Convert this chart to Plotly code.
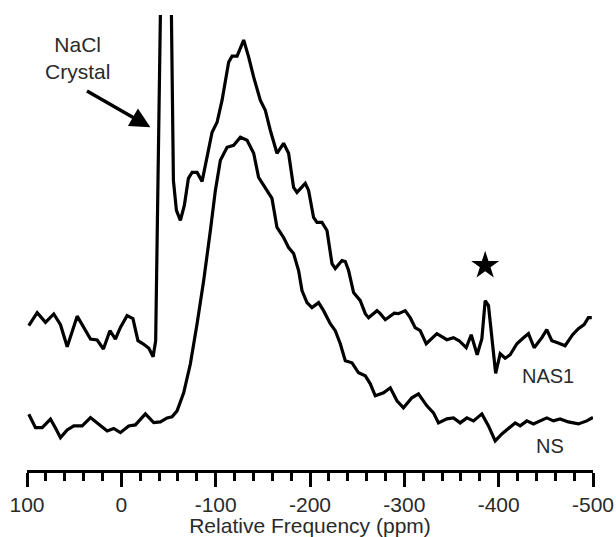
import plotly.graph_objects as go

# Chemical shift axis (ppm) and intensities (arbitrary units) for the two spectra
ns_ppm = [98.1, 91.0, 83.9, 75.1, 69.8, 64.5, 57.4, 50.4, 41.5, 32.7, 23.9, 15.0, 8.1, 1.0,
          -7.8, -14.9, -25.5, -34.3, -41.4, -48.5, -53.8, -59.1, -66.1, -73.2, -80.3, -87.3,
          -94.4, -99.7, -105.0, -112.1, -119.1, -126.2, -133.3, -140.3, -145.5, -152.6, -159.7,
          -165.0, -172.0, -177.3, -182.6, -187.9, -191.5, -196.8, -202.1, -209.1, -214.4,
          -221.5, -226.8, -232.1, -237.4, -244.5, -251.5, -258.6, -263.9, -269.2, -278.0,
          -285.1, -292.2, -299.1, -308.0, -315.0, -323.9, -330.9, -336.2, -345.1, -352.1,
          -359.2, -366.3, -373.3, -382.2, -389.2, -396.3, -403.4, -410.4, -417.5, -422.8,
          -429.9, -436.8, -443.9, -451.0, -458.0, -465.1, -473.9, -484.5, -493.4, -500.0]
ns_int = [6.7, -6.7, -6.7, 1.7, -7, -16.7, -9, -5, -5, 3.3, -3.3, -10, -7.5, -11.7,
          -5, -4, 7, -1.7, -1, 3, 4, 10, 28, 57, 97, 140,
          190, 230, 260, 273, 275, 283, 280, 267, 243, 232, 222,
          193, 183, 173, 167, 150, 130, 118, 113, 118, 110,
          97, 90, 77, 60, 58, 48, 45, 37, 25, 28,
          33, 20, 13, 23, 27, 15, 8, -2, 2, 3,
          -2, 3, 0, 7, -5, -20, -13, -8, -2, -5,
          0, -3, 0, 3, 0, 2, -1, -3, 0, 3.5]

nas1_ppm = [98.1, 89.2, 80.4, 71.6, 64.5, 57.4, 46.8, 39.8, 32.7, 25.6, 19.0, 12.1, 6.3, 1.0,
            -6.1, -12.3, -17.6, -23.4, -29.2, -33.7, -36.4, -47.8, -55.2, -58.4, -62.6, -66.8,
            -71.1, -75.0, -80.3, -85.6, -90.9, -96.2, -101.5, -106.8, -113.8, -117.4, -122.7,
            -129.7, -135.0, -140.3, -147.3, -152.6, -157.9, -165.0, -172.0, -177.3, -182.6,
            -186.2, -195.0, -198.5, -203.8, -207.4, -212.7, -218.0, -223.3, -226.8, -233.9,
            -237.4, -240.9, -246.2, -253.3, -258.6, -262.1, -271.0, -274.5, -279.8, -289.3,
            -293.8, -300.9, -306.2, -311.5, -316.8, -323.2, -334.5, -345.1, -352.1, -358.1,
            -365.6, -370.9, -377.2, -382.2, -385.7, -389.2, -392.8, -396.8, -401.6, -406.9,
            -412.2, -419.3, -426.3, -431.6, -437.6, -445.8, -451.0, -456.3, -462.5, -470.4,
            -478.4, -484.5, -490.6, -495.1, -498.7]
nas1_int = [5, 18, 8.3, 16.7, 6, -16, 14.5, 3.3, -8.3, -9.3, -18.3, 0, -8.3, 3.3,
            15, 12, -10, -13.3, -17.5, -26, -10, 730, 150, 120, 110, 125,
            152, 158, 158, 149, 175, 198, 208, 230, 268, 274, 274,
            290, 273, 253, 230, 220, 200, 177, 187, 177, 143,
            138, 147, 140, 113, 108, 108, 100, 67, 62, 70,
            69, 60, 38, 30, 17, 13, 20, 17, 11, 17.5,
            17, 20, 13, 3, 0, -13, -3, -9, -7, -10,
            -17, -4, -24, -8, 30, 25, -5, -42.5, -23, -27.5,
            -24, -13, -7, -3, -17, -7, 1, -10, -12, -15,
            -4, 2, 6, 13, 13]

# Vertical stacking offset for the upper spectrum
NAS1_OFFSET = 90

# Spinning sideband marked with a star
star_ppm = [-385.7]
star_level = [155]

tick_vals = [100, 0, -100, -200, -300, -400, -500]
tick_text = ["100", "0", "-100", "-200", "-300", "-400", "-500"]

FONT = "Liberation Sans, Arial, sans-serif"
TEXT_COLOR = "#2a2a2a"

fig = go.Figure()
fig.add_trace(go.Scatter(x=ns_ppm, y=ns_int, mode="lines",
                         line=dict(color="black", width=3.2), name="NS"))
fig.add_trace(go.Scatter(x=nas1_ppm, y=[v + NAS1_OFFSET for v in nas1_int], mode="lines",
                         line=dict(color="black", width=3.2), name="NAS1"))
fig.add_trace(go.Scatter(x=star_ppm, y=star_level, mode="markers",
                         marker=dict(symbol="star", size=21, color="black"),
                         cliponaxis=False))

fig.add_annotation(x=-452.7, y=45, text="NAS1", showarrow=False,
                   font=dict(family=FONT, size=20, color=TEXT_COLOR))
fig.add_annotation(x=-454.5, y=-25, text="NS", showarrow=False,
                   font=dict(family=FONT, size=20, color=TEXT_COLOR))
fig.add_annotation(x=46.8, y=362.5, text="NaCl<br>Crystal", showarrow=False,
                   font=dict(family=FONT, size=21, color=TEXT_COLOR))
fig.add_annotation(x=-30.8, y=293, ax=38.0, ay=330, axref="x", ayref="y",
                   xref="x", yref="y", text="", showarrow=True,
                   arrowhead=2, arrowsize=1.15, arrowwidth=3.5, arrowcolor="black",
                   standoff=0)

fig.update_layout(
    width=616, height=537,
    margin=dict(l=27, r=23, t=15, b=67),
    paper_bgcolor="white", plot_bgcolor="white",
    showlegend=False,
    font=dict(family=FONT, color=TEXT_COLOR),
    xaxis=dict(
        range=[100, -500], showgrid=False, zeroline=False, automargin=False,
        showline=True, linecolor="black", linewidth=3,
        ticks="outside", ticklen=14, tickwidth=3, tickcolor="black",
        tickvals=tick_vals, ticktext=tick_text,
        tickfont=dict(family=FONT, size=21, color=TEXT_COLOR),
        minor=dict(dtick=20, tick0=0, ticks="outside", ticklen=8, tickwidth=2.5,
                   tickcolor="black", showgrid=False),
        title=dict(text="Relative Frequency (ppm)", standoff=0,
                   font=dict(family=FONT, size=21, color=TEXT_COLOR)),
    ),
    yaxis=dict(range=[-49, 405], visible=False, fixedrange=True, automargin=False),
)

fig.write_html("out.html")
